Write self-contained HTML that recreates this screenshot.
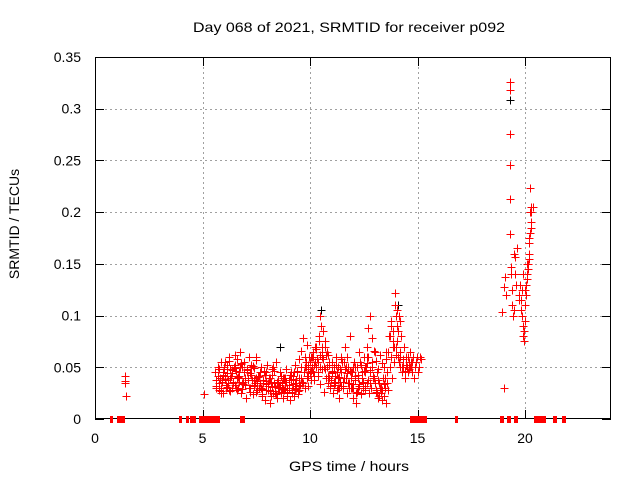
<!DOCTYPE html>
<html><head><meta charset="utf-8"><style>
body{margin:0;background:#fff;}
svg{display:block;font-family:"Liberation Sans",sans-serif;}
</style></head><body>
<svg id="chart" width="640" height="480">
<text x="349" y="32" font-size="14" text-anchor="middle" textLength="312" lengthAdjust="spacingAndGlyphs">Day 068 of 2021, SRMTID for receiver p092</text>
<text transform="translate(19,224) rotate(-90)" font-size="14" text-anchor="middle">SRMTID / TECUs</text>
<text x="349" y="471" font-size="14" text-anchor="middle" textLength="120" lengthAdjust="spacingAndGlyphs">GPS time / hours</text>
<g id="grid"></g><g id="ticks"></g>
<rect x="95.5" y="57.5" width="515" height="361" fill="none" stroke="#000" stroke-width="1" shape-rendering="crispEdges"/>
<g id="marks" shape-rendering="crispEdges"></g>
</svg>
<script>
const xTicks=[0,5,10,15,20];
const yTicks=[0,0.05,0.1,0.15,0.2,0.25,0.3,0.35];
const yTickLabels=["0","0.05","0.1","0.15","0.2","0.25","0.3","0.35"];
const xMin=0,xMax=24,yMin=0,yMax=0.35;
const passAStart=5.6, passAStep=0.05;
const passAValues=[.045,.032,.05,.028,.04,.055,.036,.025,.048,.042,.03,.052,.038,.06,.027,.044,.035,.05,.033,.046,
.058,.03,.042,.065,.025,.05,.036,.055,.02,.047,.04,.06,.03,.052,.038,.024,.049,.035,.057,.028,
.042,.03,.05,.022,.038,.045,.018,.034,.052,.028,.04,.015,.036,.048,.025,.032,.055,.02,.038,.03,
.045,.026,.035,.02,.04,.03,.048,.025,.033,.018,.038,.028,.042,.022,.035,.03,.045,.027,.04,.033,
.05,.035,.045,.03,.055,.04,.032,.06,.045,.038,.05,.065,.042,.055,.07,.045,.08,.05,.09,.06,
.085,.05,.07,.04,.065,.035,.055,.03,.045,.025,.05,.035,.06,.028,.04,.02,.048,.032,.055,.03,
.04,.07,.025,.05,.035,.08,.03,.045,.02,.055,.038,.015,.05,.03,.065,.025,.045,.035,.06,.028,
.05,.035,.06,.025,.045,.03,.055,.04,.065,.028,.045,.02,.035,.03,.025,.018,.04,.022,.03,.015,
.035,.028,.05,.06,.04,.075,.055,.11,.07,.09,.06,.1,.05,.08,.045,.07,.04,.06,.05,.045,
.055,.065,.05,.045,.06,.04,.05,.055,.045,.05,.06,.058];
const passBStart=5.625, passBStep=0.11;
const passBValues=[.038,.05,.03,.045,.055,.035,.048,.03,.062,.04,
.05,.035,.055,.045,.03,.05,.038,.06,.042,.03,
.035,.045,.028,.04,.05,.025,.035,.045,.03,.04,
.03,.038,.025,.045,.032,.028,.04,.035,.05,.042,
.06,.045,.07,.055,.1,.065,.075,.05,.04,.055,
.035,.045,.03,.06,.04,.05,.035,.045,.03,.05,
.04,.055,.03,.045,.06,.035,.05,.04,.025,.035,
.03,.05,.065,.08,.09,.07,.1,.085,.06,.05,
.045,.06,.05,.055,.05,.06];
const passCStart=5.65, passCStep=0.07;
const passCValues=[.03,.042,.048,.025,.038,.05,.033,.044,.028,.04,.047,.035,.052,.03,
.041,.036,.054,.029,.045,.033,.048,.038,.026,.043,.051,.032,.04,.037,
.03,.045,.024,.038,.043,.028,.035,.04,.022,.031,.046,.027,.036,.03,
.033,.025,.04,.028,.036,.022,.03,.043,.026,.034,.029,.038,.024,.032,
.04,.036,.045,.05,.042,.048,.055,.046,.06,.052,.068,.058,.075,.062,
.07,.058,.048,.062,.042,.052,.038,.046,.033,.042,.028,.05,.036,.045,
.032,.055,.04,.06,.035,.046,.03,.05,.038,.025,.043,.034,.052,.04,
.046,.032,.054,.038,.047,.03,.042,.035,.026,.038,.022,.03,.028,.034,
.04,.045,.065,.08,.095,.085,.07,.062,.075,.055,.065,.05,.058,.046,
.052,.06,.048,.055];
const passDStart=5.7, passDStep=0.09;
const passDValues=[.05,.035,.027,.043,.039,.031,.056,.042,.036,.049,.028,.045,.053,.034,.04,.047,.03,.044,.038,.033,
.026,.041,.035,.029,.046,.037,.032,.027,.043,.035,.024,.038,.031,.042,.029,.036,.026,.033,.045,.039,
.052,.046,.058,.066,.078,.06,.072,.052,.044,.06,.038,.05,.042,.034,.048,.026,.04,.062,.032,.044,
.036,.052,.03,.041,.058,.036,.048,.044,.03,.04,.034,.042,.026,.032,.024,.036,.05,.07,.088,.1,
.078,.066,.056,.048,.062,.054,.05,.058];
const extraTimes=[1.4,1.4,1.4,1.45,5.07,18.95,19.0,19.0,19.05,19.1,19.3,19.3,19.3,19.3,19.3,19.35,19.35,19.4,19.4,19.45,19.5,19.5,19.55,19.6,19.65,19.7,19.75,19.8,19.8,19.85,19.9,19.9,19.9,19.95,19.95,20.0,20.0,20.05,20.05,20.1,20.1,20.15,20.2,20.2,20.25,20.25,20.3,20.3,20.25,20.2,20.15,20.35,20.3,13.95,14.05,14.2,19.55,19.7,19.85,20.0,20.1,20.2,20.3,19.3];
const extraValues=[.042,.037,.035,.022,.024,.103,.03,.128,.137,.12,.326,.318,.276,.246,.179,.14,.147,.125,.11,.1,.105,.16,.157,.13,.165,.12,.13,.115,.105,.125,.14,.09,.08,.085,.075,.095,.11,.13,.12,.15,.14,.145,.16,.17,.2,.223,.19,.205,.18,.155,.15,.205,.185,.122,.105,.095,.14,.115,.1,.125,.135,.175,.2,.213];
const blackTimes=[19.3,10.5,14.1,8.6];
const blackValues=[.308,.105,.11,.07];
const zeroTimes=[0.75,1.05,1.1,1.15,1.2,1.25,1.3,3.95,4.3,4.45,4.5,4.55,4.6,
4.9,4.95,5.0,5.05,5.1,5.15,5.2,5.25,5.3,5.35,5.4,5.45,5.5,5.55,5.6,5.65,5.7,
6.8,6.85,6.9,14.7,14.75,14.8,14.85,14.9,15.0,15.05,15.1,15.2,15.35,16.8,
18.9,18.95,19.2,19.25,19.55,19.6,20.45,20.5,20.55,20.6,20.65,20.7,20.8,20.85,20.9,21.35,21.4,21.75,21.8];

const X=v=>95+(v-xMin)/(xMax-xMin)*516;
const Y=v=>419-(v-yMin)/(yMax-yMin)*362;
const NS="http://www.w3.org/2000/svg";
function mk(tag,attrs,parent){const e=document.createElementNS(NS,tag);for(const k in attrs)e.setAttribute(k,attrs[k]);parent.appendChild(e);return e;}
const grid=document.getElementById('grid'),ticks=document.getElementById('ticks'),marks=document.getElementById('marks');
xTicks.forEach(t=>{
  const x=Math.round(X(t))+0.5;
  if(t>0){const g=mk('line',{x1:x,y1:57,x2:x,y2:419,stroke:'#a0a0a0','stroke-dasharray':'2,3'},grid);
  
  }
  mk('line',{x1:x,y1:419,x2:x,y2:410,stroke:'#000'},ticks);
  mk('line',{x1:x,y1:57,x2:x,y2:66,stroke:'#000'},ticks);
  const l=mk('text',{x:X(t),y:443,'font-size':14,'text-anchor':'middle'},ticks);l.textContent=t;
  
  
});
yTicks.forEach((t,i)=>{
  const y=Math.round(Y(t))+0.5;
  if(t>0&&t<yMax){const g=mk('line',{x1:95,y1:y,x2:611,y2:y,stroke:'#a0a0a0','stroke-dasharray':'2,3'},grid);
  
  }
  mk('line',{x1:95,y1:y,x2:104,y2:y,stroke:'#000'},ticks);
  mk('line',{x1:611,y1:y,x2:602,y2:y,stroke:'#000'},ticks);
  const l=mk('text',{x:81,y:Y(t)+5,'font-size':14,'text-anchor':'end'},ticks);l.textContent=yTickLabels[i];
  
  
});
function plus(t,v,col){
  const x=Math.round(X(t))+0.5,y=Math.round(Y(v))+0.5;
  const p=mk('path',{d:`M${x-4},${y}h8M${x},${y-4}v8`,stroke:col,'stroke-width':1,fill:'none'},marks);
  
  
}
blackTimes.forEach((t,i)=>plus(t,blackValues[i],'#000'));
passAValues.forEach((v,i)=>plus(passAStart+i*passAStep,v,'#f00'));
passBValues.forEach((v,i)=>plus(passBStart+i*passBStep,v,'#f00'));
passCValues.forEach((v,i)=>plus(passCStart+i*passCStep,v,'#f00'));
passDValues.forEach((v,i)=>plus(passDStart+i*passDStep,v,'#f00'));
extraTimes.forEach((t,i)=>plus(t,extraValues[i],'#f00'));
zeroTimes.forEach(t=>{
  const x=Math.round(X(t)),y=Math.round(Y(0));
  const r=mk('rect',{x:x-1,y:y-3,width:3,height:7,fill:'#f00'},marks);
  
  
});
</script>
</body></html>
